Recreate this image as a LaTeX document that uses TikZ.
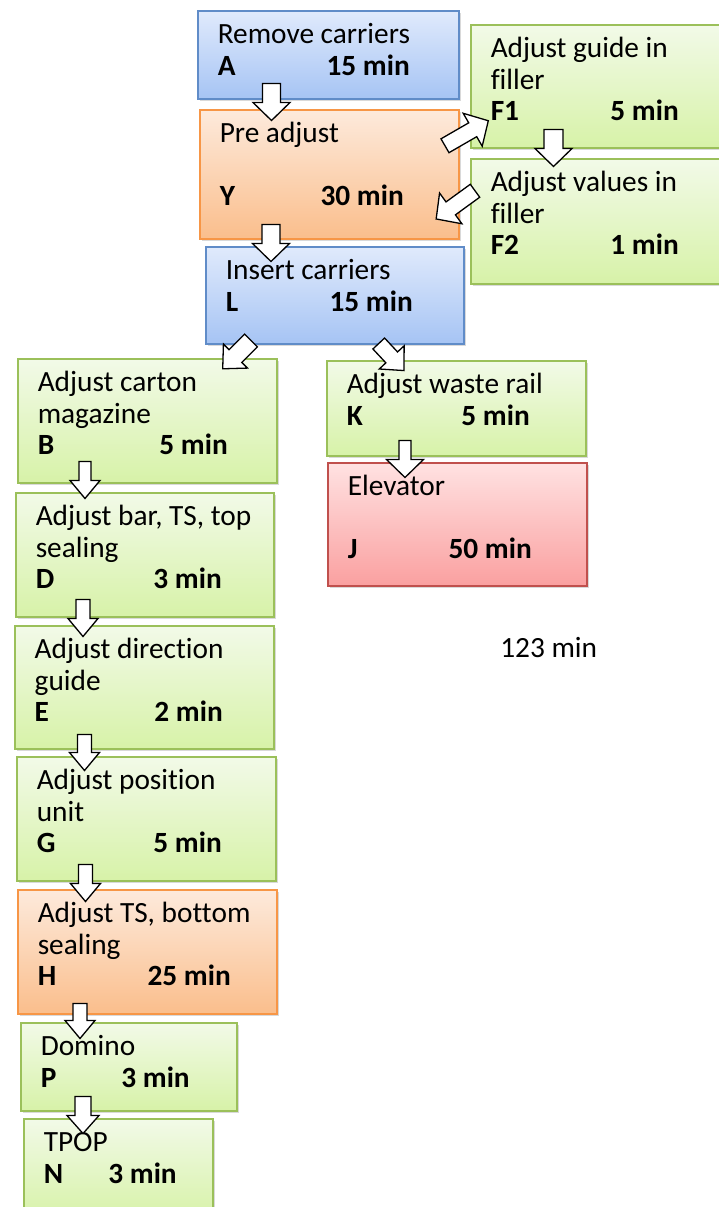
\documentclass[tikz,border=0pt]{standalone}
\usepackage{fontspec}
\setmainfont{Carlito}[Ligatures=NoCommon]
\usetikzlibrary{calc,shadows}

\definecolor{bluetop}{RGB}{224,234,252}
\definecolor{bluebot}{RGB}{166,196,244}
\definecolor{blueline}{RGB}{96,140,200}
\definecolor{orangetop}{RGB}{253,234,220}
\definecolor{orangebot}{RGB}{250,190,140}
\definecolor{orangeline}{RGB}{247,150,70}
\definecolor{greentop}{RGB}{242,250,232}
\definecolor{greenbot}{RGB}{215,242,168}
\definecolor{greenline}{RGB}{155,192,90}
\definecolor{redtop}{RGB}{255,226,226}
\definecolor{redbot}{RGB}{250,160,160}
\definecolor{redline}{RGB}{192,80,77}

\newdimen\pu \pu=0.75pt

% box text: width, height, lines, letter, time, end of time
\newcommand{\taskbody}[6]{%
  \begin{minipage}[t][#2\pu][t]{#1\pu}
  \fontsize{22}{23.625}\selectfont\raggedright\leftskip=20\pu
  \rule{0pt}{33\pu}#3\par
  \makebox[#6\pu][l]{\textbf{#4}\hfill\textbf{#5}}
  \end{minipage}}

\tikzset{
  stepbox/.style={draw=#1line, top color=#1top, bottom color=#1bot,
    line width=1.5\pu, inner sep=0pt, anchor=north west,
    drop shadow={shadow xshift=1.5pt, shadow yshift=-2pt, opacity=0.3}},
  arrowline/.style={draw=black, fill=white, line width=1.3\pu},
  pics/barrow/.style n args={3}{code={
    \draw[arrowline] (0,-#2) -- ({#1-18},-#2) -- ({#1-18},-#3) -- (#1,0)
      -- ({#1-18},#3) -- ({#1-18},#2) -- (0,#2) -- cycle;
  }},
}

\begin{document}
\begin{tikzpicture}[x=0.75pt,y=-0.75pt]
\useasboundingbox (0,0) rectangle (718,1207);

% top part
\node[stepbox=blue] (A) at (197,10) {\taskbody{261}{88}{Remove carriers}{A}{15 min}{192}};
\node[stepbox=orange] (Y) at (199,109) {\taskbody{259}{129}{Pre adjust\\\mbox{}}{Y}{30 min}{184}};
\node[stepbox=green] (F1) at (470,24) {\taskbody{260}{123}{Adjust guide in\\filler}{F1}{5 min}{188}};
\node[stepbox=green] (F2) at (470,158) {\taskbody{260}{125}{Adjust values in\\filler}{F2}{1 min}{188}};
\node[stepbox=blue] (L) at (205,246) {\taskbody{258}{97}{Insert carriers}{L}{15 min}{187}};

% right branch
\node[stepbox=green] (K) at (326,360) {\taskbody{259}{95}{Adjust waste rail}{K}{5 min}{183}};
\node[stepbox=red] (J) at (327,462) {\taskbody{259}{123}{Elevator\\\mbox{}}{J}{50 min}{184}};

% left branch
\node[stepbox=green] (B) at (17,358) {\taskbody{259}{124}{Adjust carton\\magazine}{B}{5 min}{190}};
\node[stepbox=green] (D) at (15,492) {\taskbody{258}{124}{Adjust bar, TS, top\\sealing}{D}{3 min}{186}};
\node[stepbox=green] (E) at (14,625) {\taskbody{259}{123}{Adjust direction\\guide}{E}{2 min}{188}};
\node[stepbox=green] (G) at (16,756) {\taskbody{259}{124}{Adjust position\\unit}{G}{5 min}{185}};
\node[stepbox=orange] (H) at (17,889) {\taskbody{259}{124}{Adjust TS, bottom\\sealing}{H}{25 min}{193}};
\node[stepbox=green] (P) at (20,1022) {\taskbody{216}{88}{Domino}{P}{3 min}{149}};
\node[stepbox=green] (N) at (23,1118) {\taskbody{189}{100}{TPOP}{N}{3 min}{133}};

\node[anchor=base west, font=\fontsize{22}{24}\selectfont, inner sep=0pt] (total) at (500,657) {123 min};

% block arrows
\pic[rotate=-90] (aAY) at ($(A.south west)+(74.5,-16)$) {barrow={37}{9}{18.5}};
\pic[rotate=-90] (aYL) at ($(Y.south west)+(72,-15)$) {barrow={37}{9}{18.5}};
\pic[rotate=30] (aYF) at ($(Y.east)+(-14.5,-28.5)$) {barrow={50}{8}{19}};
\pic[rotate=-90] (aFF) at ($(F1.south west)+(83.5,-19)$) {barrow={37}{9.5}{18.5}};
\pic[rotate=216] (aFY) at ($(F2.west)+(5,-30.5)$) {barrow={48}{8}{19}};
\pic[rotate=225] (aLB) at ($(L.south west)+(46,-4)$) {barrow={40}{9}{17}};
\pic[rotate=-47] (aLK) at ($(L.south)+(44,-1)$) {barrow={37}{8}{17}};
\pic[rotate=-90] (aKJ) at ($(K.south west)+(79,-16)$) {barrow={37}{6}{18.5}};
\pic[rotate=-90] (aBD) at ($(B.south west)+(68,-22)$) {barrow={37}{6}{15}};
\pic[rotate=-90] (aDE) at ($(D.south west)+(68,-18)$) {barrow={37}{7}{15}};
\pic[rotate=-90] (aEG) at ($(E.south west)+(70.5,-15)$) {barrow={36}{7}{15}};
\pic[rotate=-90] (aGH) at ($(G.south west)+(69.5,-17)$) {barrow={37}{7}{15}};
\pic[rotate=-90] (aHP) at ($(H.south west)+(63,-11)$) {barrow={35}{7}{15}};
\pic[rotate=-90] (aPN) at ($(P.south west)+(63,-15)$) {barrow={37}{8}{16}};
\end{tikzpicture}
\end{document}
